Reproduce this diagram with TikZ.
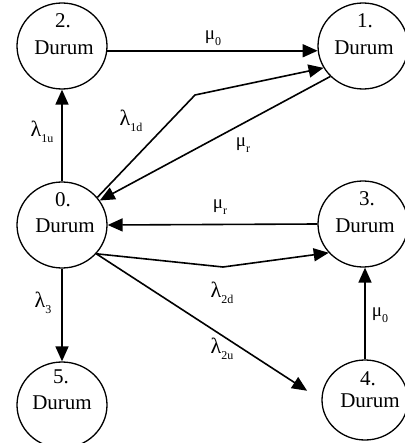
\documentclass[tikz,border=0pt]{standalone}
\usepackage{fontspec}
\setmainfont{Liberation Serif}
\usetikzlibrary{arrows.meta,shapes.geometric}
% Greek rate symbol (given size) with a lowered subscript
\newcommand\ratelab[3]{{\fontsize{#1}{#1}\selectfont #2}\raisebox{-6pt}{\fontsize{12}{12}\selectfont #3}}
\newcommand\lamlab[1]{\ratelab{22}{λ}{#1}}
\newcommand\mulab[1]{\ratelab{19}{μ}{#1}}
\begin{document}
\begin{tikzpicture}[x=1pt,y=-1pt,
  state/.style={draw, ellipse, line width=1.3pt, minimum width=90pt, minimum height=86pt, inner sep=0pt},
  txt/.style={font=\fontsize{21}{21}\selectfont, anchor=base, inner sep=0pt},
  arr/.style={line width=1.6pt, -{Triangle[length=15pt,width=13pt]}},
  lbl/.style={inner sep=0pt}]
\useasboundingbox (0,0) rectangle (404,443);

% states
\node[state] (n2) at (62,46) {};
\node[state] (n1) at (363,46) {};
\node[state] (n0) at (62,225) {};
\node[state] (n3) at (363,224) {};
\node[state] (n5) at (62,405) {};
\node[state, minimum width=86pt, minimum height=80pt] (n4) at (365,400) {};

% state titles
\node[txt] (n2a) at (63,28) {2.};
\node[txt] (n2b) at (64,55) {Durum};
\node[txt] (n1a) at (365,28) {1.};
\node[txt] (n1b) at (364,55) {Durum};
\node[txt] (n0a) at (63,207) {0.};
\node[txt] (n0b) at (65,232) {Durum};
\node[txt] (n3a) at (367,205) {3.};
\node[txt] (n3b) at (365,232) {Durum};
\node[txt] (n5a) at (61,383) {5.};
\node[txt] (n5b) at (62,409) {Durum};
\node[txt] (n4a) at (368,385) {4.};
\node[txt] (n4b) at (370,407) {Durum};

% bend points
\coordinate (b1) at (195,95);
\coordinate (b2) at (223,267);

% transitions
\draw[arr] (n2.-6) -- (n1.186);
\draw[arr] (n0.north) -- (n2.south);
\draw[arr] (n0.38) -- (b1) -- (n1.209);
\draw[arr] (n1.223) -- (n0.33);
\draw[arr] (n3.west) -- (n0.east);
\draw[arr] (n0.-40) -- (b2) -- (n3.220);
\draw[arr, shorten >=17pt] (n0.-40) -- (n4.west);
\draw[arr] (n0.south) -- (n5.north);
\draw[arr] (n4.north) -- (n4.north |- n3.south);

% rates
\node[lbl] (l1) at (213,38) {\mulab{0}};
\node[lbl] (l2) at (42,132) {\lamlab{1u}};
\node[lbl] (l3) at (131,121) {\lamlab{1d}};
\node[lbl] (l4) at (243,145) {\mulab{r}};
\node[lbl] (l5) at (220,207) {\mulab{r}};
\node[lbl] (l6) at (222,293) {\lamlab{2d}};
\node[lbl] (l7) at (222,349) {\lamlab{2u}};
\node[lbl] (l8) at (43,303) {\lamlab{3}};
\node[lbl] (l9) at (380,315) {\mulab{0}};
\end{tikzpicture}
\end{document}
